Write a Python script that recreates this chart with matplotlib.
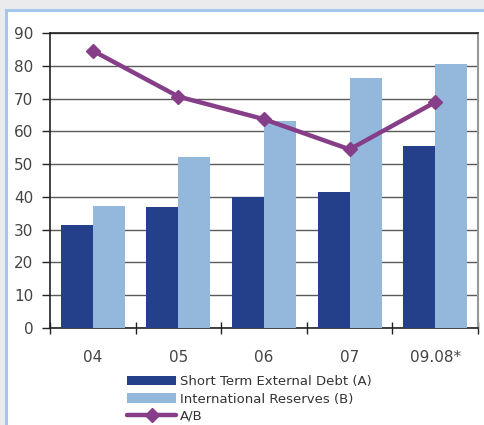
import matplotlib
matplotlib.use("Agg")
import matplotlib.pyplot as plt
from matplotlib.patches import Rectangle
import numpy as np

categories = ["04", "05", "06", "07", "09.08*"]
short_term_debt = [31.5, 36.9, 40.1, 41.5, 55.5]
intl_reserves = [37.3, 52.2, 63.2, 76.3, 80.5]
ratio_ab = [84.6, 70.6, 63.7, 54.5, 68.9]
yticks = [0, 10, 20, 30, 40, 50, 60, 70, 80, 90]

W, H = 484, 425
fig = plt.figure(figsize=(W / 100, H / 100), dpi=100, facecolor="#ebebee")

# white panel with light-blue border
panel = Rectangle((5.5 / W, -0.05), 1.0, 1.05 - 9.5 / H, transform=fig.transFigure,
                  facecolor="white", edgecolor="#a3c6e9", linewidth=2.2, zorder=-5)
fig.patches.append(panel)

ax = fig.add_axes([50 / W, 1 - 328 / H, (478 - 50) / W, (328 - 33) / H])
ax.set_facecolor("none")
ax.set_zorder(2)

x = np.arange(len(categories))
bw = 0.374
dark = "#24408a"
light = "#93b8dc"
purple = "#863e88"

b1 = ax.bar(x - bw / 2, short_term_debt, width=bw, color=dark, zorder=3,
            label="Short Term External Debt (A)")
b2 = ax.bar(x + bw / 2, intl_reserves, width=bw, color=light, zorder=3,
            label="International Reserves (B)")
ln, = ax.plot(x, ratio_ab, color=purple, lw=3.2, marker="D", markersize=7,
              zorder=4, label="A/B", solid_capstyle="round")

ax.set_xlim(-0.5, len(categories) - 0.5)
ax.set_ylim(0, 90)
ax.set_yticks(yticks)
ax.yaxis.grid(True, color="#5a5a5a", lw=1.0, zorder=1)
ax.set_axisbelow(True)

ax.set_xticks(x)
ax.set_xticklabels(categories)
ax.set_xticks(np.arange(-0.5, len(categories)), minor=True)
ax.tick_params(axis="x", which="major", length=0, pad=16, labelsize=11,
               labelcolor="#444444")
ax.tick_params(axis="x", which="minor", direction="inout", length=9,
               width=1.0, color="#222222")
ax.tick_params(axis="y", direction="out", length=6, width=1.0, color="#222222",
               pad=6, labelsize=11, labelcolor="#444444")

for s in ["left", "bottom", "top"]:
    ax.spines[s].set_color("#222222")
    ax.spines[s].set_linewidth(1.2)
ax.spines["right"].set_color("#999999")
ax.spines["right"].set_linewidth(1.5)

leg = fig.legend([b1, b2, ln], [b1.get_label(), b2.get_label(), ln.get_label()],
                 loc="upper left", bbox_to_anchor=(122 / W, 1 - 370 / H),
                 frameon=False, fontsize=9.5, handlelength=3.7,
                 handletextpad=0.3, labelspacing=0.33, borderaxespad=0)
for t in leg.get_texts():
    t.set_color("#333333")

fig.savefig("out.png", dpi=100, facecolor=fig.get_facecolor())
